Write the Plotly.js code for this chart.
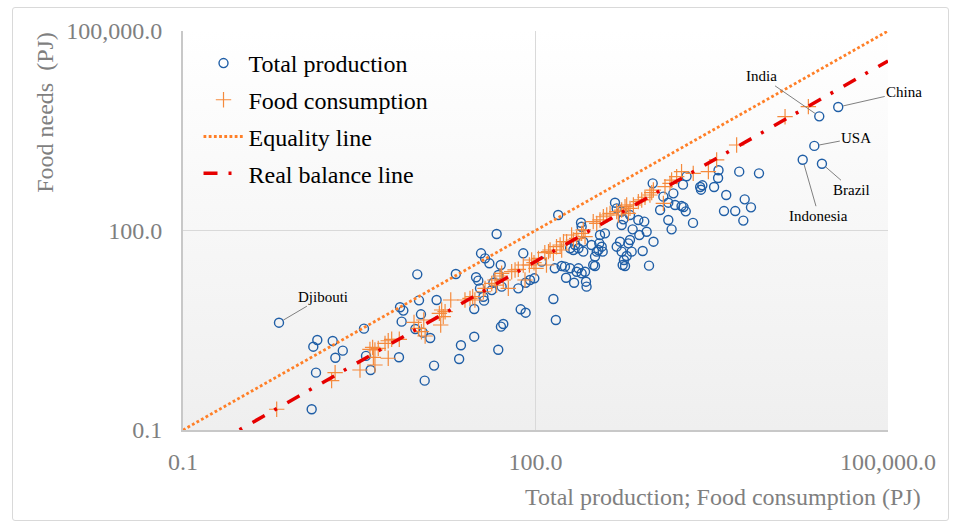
<!DOCTYPE html>
<html>
<head>
<meta charset="utf-8">
<script src="https://cdn.plot.ly/plotly-3.0.1.min.js"></script>
<style>
  html, body { margin: 0; padding: 0; background: #ffffff; }
  #wrap { position: relative; width: 960px; height: 527px; }
  #bg { position: absolute; left: 183px; top: 31px; width: 705px; height: 399px;
        background: linear-gradient(to bottom, #ffffff 0%, #f7f7f7 50%, #efefef 100%); }
  #frame { position: absolute; left: 12px; top: 7px; width: 935px; height: 512px;
           border: 1px solid #d9d9d9; border-radius: 3px; }
  #chart { position: absolute; left: 0; top: 0; width: 960px; height: 527px; }
</style>
</head>
<body>
<div id="wrap">
  <div id="frame"></div>
  <div id="bg"></div>
  <div id="chart"></div>
</div>
<script>
// ---- Data (PJ) ----
const prodX = [26000, 37700, 23600, 18800, 27400, 0.656,
  7980, 5420, 3610, 3580, 3310, 2520, 2630, 2560, 4200, 6030, 6820, 5010, 4020, 5870, 2190, 1930, 1800, 1900, 1820,
  1.355, 1.39, 1.285, 1.88, 2.29, 1.98, 3.47, 3.61, 3.95, 6.89, 7.26, 7.03, 7.5, 9.86, 10.2, 10.6, 9.5, 11.0, 12.7, 14.4, 13.7, 11.4, 1.245,
  46.7, 34.4, 37.2, 40.5, 50.6, 78.7, 21.0, 31.2, 32.6, 33.7, 43.8, 48.3, 51.5, 42.4, 36.0, 36.5, 30.1, 71.4, 82.4, 89.7,
  97.7, 113, 146, 156, 142, 74.8, 82.4, 149, 50.8, 53.2, 30.1, 48.2, 22.4, 23.2,
  994, 1225, 1490, 1540, 1150, 1350, 1440,
  475, 491, 541, 559, 541, 637, 671, 750, 843, 883, 765, 1010, 637, 617, 524, 491, 541, 597, 658, 566, 552, 578, 817, 925,
  244, 247, 390, 354, 349, 366, 343, 373, 321, 310, 321, 332, 300, 255, 255, 232, 210, 197, 217,
  232, 224, 247, 264, 197, 178, 167, 182, 213, 269, 272, 1350, 1750];
const prodY = [5210, 7190, 1870, 1160, 1010, 4.11,
  724, 767, 804, 615, 451, 451, 478, 411, 342, 294, 223, 196, 196, 141, 130, 653, 489, 194, 225,
  0.728, 2.26, 1.79, 2.18, 1.56, 1.22, 3.34, 1.30, 0.798, 1.24, 4.26, 7.0, 6.24, 21.9, 8.9, 5.49, 3.30, 2.91, 2.42, 9.0, 0.93, 0.552, 0.205,
  88.5, 45.4, 38.1, 32.1, 30.3, 45.4, 22.2, 19.8, 17.6, 13.5, 16.4, 21.4, 14.3, 12.7, 10.1, 8.81, 6.6, 13.5, 16.4, 18.0,
  19.1, 34.0, 27.0, 171, 9.33, 6.53, 5.81, 4.51, 3.58, 3.93, 2.53, 1.61, 1.17, 1.88,
  512, 323, 362, 242, 203, 144, 104,
  262, 215, 192, 147, 121, 171, 104, 144, 136, 95.9, 85.5, 67.9, 72.0, 64.1, 67.9, 57.1, 48.1, 41.4, 48.1, 36.0, 30.3, 29.2, 49.2, 29.6,
  131, 114, 90.6, 85.5, 64.1, 57.1, 50.9, 48.1, 40.5, 30.3, 29.2, 48.1, 60.5, 67.9, 48.1, 54.0, 50.9, 54.0, 60.5,
  27.0, 24.0, 22.7, 24.0, 27.0, 28.6, 29.2, 19.5, 16.4, 17.0, 14.3, 262, 233];

const consX = [0.627, 1.84, 1.97, 3.21, 3.90, 4.11, 4.30, 4.17, 4.30, 4.59, 5.24, 5.58, 5.97, 5.58, 6.93, 9.25, 10.1, 11.2, 10.7, 11.5,
  15.2, 15.9, 16.4, 15.6, 19.0, 17.0, 25.1, 27.7, 29.2, 30.5, 36.0, 37.2, 42.4, 45.2, 46.7, 49.9, 51.5, 58.7, 53.2, 62.7,
  67.0, 71.4, 78.7, 81.4, 88.7, 92.7, 97.1, 101, 106, 120, 129, 124,
  133, 142, 151, 162, 167, 173, 184, 203, 210, 224, 247, 255, 264, 310, 332, 354, 378, 404, 431, 491,
  507, 541, 578, 597, 617, 637, 681, 750, 802, 855, 942, 975, 1007, 1225, 1265, 1396,
  1440, 1590, 1750, 2200, 2960, 3480, 5150, 13300, 21000];
const consY = [0.205, 0.552, 0.728, 0.798, 1.63, 1.75, 1.60, 1.24, 0.95, 1.69, 2.01, 2.20, 2.31, 1.20, 2.31, 4.16, 3.38, 4.51, 3.01, 2.59,
  5.68, 6.38, 5.06, 3.79, 9.02, 6.01, 9.02, 9.55, 10.1, 9.02, 12.0, 13.5, 16.0, 18.0, 15.1, 20.7, 22.7, 13.5, 18.0, 24.0,
  25.5, 26.1, 30.3, 18.0, 30.3, 36.0, 32.8, 27.0, 38.1, 46.4, 48.1, 30.3,
  50.9, 45.4, 57.1, 60.5, 50.9, 67.9, 67.9, 85.5, 72.0, 76.2, 90.6, 102, 80.7, 136, 128, 144, 161, 171, 181, 192,
  171, 203, 228, 242, 181, 215, 242, 272, 288, 316, 342, 371, 406, 256, 456, 512,
  574, 645, 767, 724, 767, 1150, 1930, 5140, 7280];

const equalityX = [0.1, 100000];
const equalityY = [0.1, 100000];
const balanceX = [0.1, 100000];
const balanceY = [0.033, 35500];

const tickVals = [0.1, 100, 100000];
const tickText = ['0.1', '100.0', '100,000.0'];

const seriesNames = ['Total production', 'Food consumption', 'Equality line', 'Real balance line'];
const labelNames = ['India', 'China', 'USA', 'Indonesia', 'Brazil', 'Djibouti'];
const labelIndex = [0, 1, 2, 3, 4, 5];

// ---- Styles ----
const SERIF = 'Liberation Serif, "Times New Roman", serif';
const labelOffsets = { India: [-58, -40], China: [66, -15], USA: [42, -8], Indonesia: [16, 56], Brazil: [30, 26], Djibouti: [44, -26] };

const traces = [
  { x: prodX, y: prodY, name: seriesNames[0], type: 'scatter', mode: 'markers', legendgroup: 'a',
    marker: { symbol: 'circle-open', size: 9, color: '#1f5ea6', line: { width: 1.4, color: '#1f5ea6' } } },
  { x: consX, y: consY, name: seriesNames[1], type: 'scatter', mode: 'markers', legendgroup: 'b',
    marker: { symbol: 'cross-thin-open', size: 11, color: '#f58a3c', line: { width: 1.2, color: '#f58a3c' } } },
  { x: equalityX, y: equalityY, name: seriesNames[2], type: 'scatter', mode: 'lines', legendgroup: 'c',
    line: { color: '#ff7f27', width: 2.8, dash: '2.8px,2.4px' } },
  { x: balanceX, y: balanceY, name: seriesNames[3], type: 'scatter', mode: 'lines', legendgroup: 'd',
    line: { color: '#e60000', width: 3.5, dash: '14px,11px,3px,12px' } }
];

const annotations = labelIndex.map((idx, k) => {
  const nm = labelNames[k];
  return {
    x: Math.log10(prodX[idx]), y: Math.log10(prodY[idx]), xref: 'x', yref: 'y',
    text: nm, showarrow: true, arrowhead: 0, arrowwidth: 1, arrowcolor: '#808080',
    ax: labelOffsets[nm][0], ay: labelOffsets[nm][1], standoff: 5,
    font: { family: SERIF, size: 15, color: '#000000' }
  };
});
annotations.push({
  xref: 'paper', yref: 'paper', x: 0.766, y: -0.168, xanchor: 'center', yanchor: 'middle', showarrow: false,
  text: 'Total production; Food consumption (PJ)',
  font: { family: SERIF, size: 24, color: '#7f7f7f' }
});
annotations.push({
  xref: 'paper', yref: 'paper', x: -0.196, y: 0.797, xanchor: 'center', yanchor: 'middle', showarrow: false, textangle: -90,
  text: 'Food needs\u00a0 (PJ)',
  font: { family: SERIF, size: 24, color: '#7f7f7f' }
});

const axisCommon = {
  type: 'log', range: [-1, 5], tickmode: 'array', tickvals: tickVals, ticktext: tickText,
  showgrid: true, gridcolor: '#d9d9d9', gridwidth: 1, zeroline: false,
  showline: true, linecolor: '#c8c8c8', linewidth: 2, ticks: '',
  tickfont: { family: SERIF, size: 24, color: '#7f7f7f' }
};

const layout = {
  width: 960, height: 527,
  margin: { l: 183, r: 72, t: 31, b: 97 },
  paper_bgcolor: 'rgba(0,0,0,0)', plot_bgcolor: 'rgba(0,0,0,0)',
  showlegend: true,
  legend: { x: 0.022, y: 0.975, xanchor: 'left', yanchor: 'top', bgcolor: 'rgba(0,0,0,0)',
            font: { family: SERIF, size: 24, color: '#000000' }, itemwidth: 40, tracegroupgap: 2.5 },
  xaxis: Object.assign({}, axisCommon, { ticklabelstandoff: 9 }),
  yaxis: Object.assign({}, axisCommon, { ticklabelstandoff: 14 }),
  annotations: annotations
};

Plotly.newPlot('chart', traces, layout, { displayModeBar: false, staticPlot: true });
</script>
</body>
</html>
